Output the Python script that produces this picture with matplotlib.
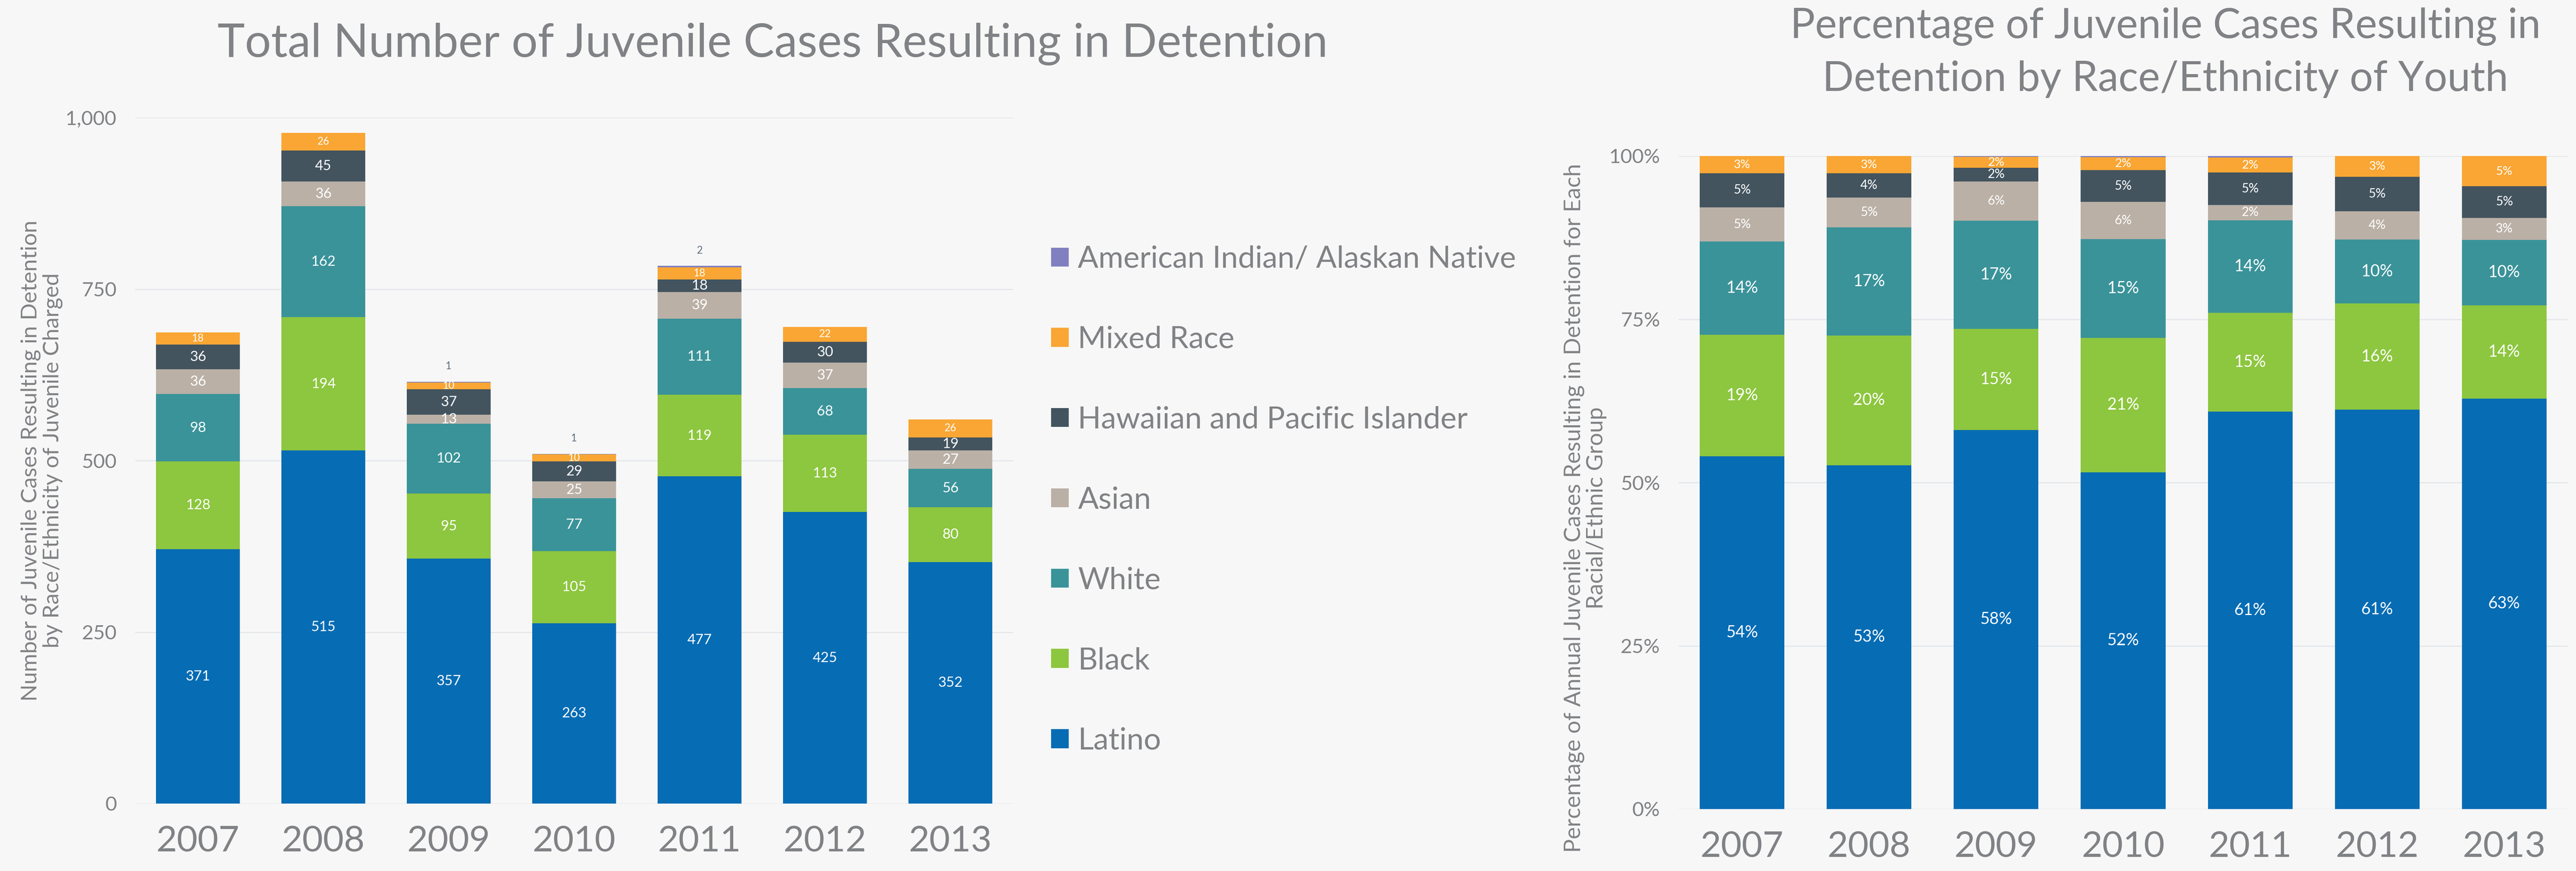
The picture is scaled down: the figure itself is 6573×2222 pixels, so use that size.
import matplotlib.pyplot as plt
from matplotlib.patches import Patch
from matplotlib.ticker import FuncFormatter, MultipleLocator

plt.rcParams['font.family'] = ['Lato', 'DejaVu Sans']

# %% data
years = ['2007', '2008', '2009', '2010', '2011', '2012', '2013']
groups = ['Latino', 'Black', 'White', 'Asian', 'Hawaiian and Pacific Islander',
          'Mixed Race', 'American Indian/ Alaskan Native']
colors = ['#066CB4', '#8DC63F', '#3A9399', '#BAB0A6', '#43545F', '#F9A634', '#8080C0']

# counts, left chart
latino = [371, 515, 357, 263, 477, 425, 352]
black = [128, 194, 95, 105, 119, 113, 80]
white = [98, 162, 102, 77, 111, 68, 56]
asian = [36, 36, 13, 25, 39, 37, 27]
hawaiian = [36, 45, 37, 29, 18, 30, 19]
mixed = [18, 26, 10, 10, 18, 22, 26]
am_indian = [0, 0, 1, 1, 2, 0, 0]

# percentages, right chart (as drawn in the picture)
pct_latino = [54.00, 52.66, 58.05, 51.57, 60.84, 61.15, 62.86]
pct_black = [18.63, 19.84, 15.45, 20.59, 15.18, 16.26, 14.29]
pct_white = [14.26, 16.56, 16.59, 15.10, 14.16, 9.78, 10.00]
pct_asian = [5.24, 4.60, 6.02, 5.69, 2.30, 4.32, 3.39]
pct_hawaiian = [5.24, 3.68, 2.11, 4.90, 4.97, 5.32, 4.82]
pct_mixed = [2.62, 2.66, 1.63, 1.96, 2.30, 3.17, 4.64]
pct_am_indian = [0, 0, 0.16, 0.20, 0.26, 0, 0]

counts = [latino, black, white, asian, hawaiian, mixed, am_indian]
pcts = [pct_latino, pct_black, pct_white, pct_asian, pct_hawaiian, pct_mixed, pct_am_indian]

# %% style
bg = '#F7F7F7'
grey = '#808285'
grid_c = '#E2E6EA'
W, H = 6573, 2222
DPI = 100

fig = plt.figure(figsize=(W / DPI, H / DPI), dpi=DPI, facecolor=bg)

def px_axes(x0, y0, x1, y1):
    # pixel box (top-left origin) -> figure axes
    return fig.add_axes([x0 / W, 1 - y1 / H, (x1 - x0) / W, (y1 - y0) / H])

ax1 = px_axes(345, 300, 2585, 2050)
ax2 = px_axes(4283, 398, 6552, 2064)

for ax in (ax1, ax2):
    ax.set_facecolor(bg)
    for s in ax.spines.values():
        s.set_visible(False)
    ax.yaxis.grid(True, color=grid_c, lw=2)
    ax.set_axisbelow(True)
    ax.set_xlim(-0.5, len(years) - 0.5)
    ax.tick_params(length=0, colors=grey)
    ax.tick_params(axis='x', labelsize=66, pad=40)
    ax.tick_params(axis='y', labelsize=37, pad=34)

x = range(len(years))

# %% left chart - counts
label_size_l = [26, 26, 26, 26, 26, 19, 19]
bottom = [0] * len(years)
for vals, c, fs in zip(counts, colors, label_size_l):
    bars = ax1.bar(x, vals, 0.67, bottom=bottom, color=c, linewidth=0)
    if c != colors[-1]:
        ax1.bar_label(bars, labels=[str(v) if v > 0 else '' for v in vals],
                      label_type='center', color='white', fontsize=fs)
    bottom = [b + v for b, v in zip(bottom, vals)]

for i, v in enumerate(am_indian):
    if v > 0:
        ax1.annotate(str(v), (i, bottom[i]), xytext=(0, 28), textcoords='offset points',
                     ha='center', va='center', color='#5E6E80', fontsize=19)

ax1.set_ylim(0, 1000)
ax1.yaxis.set_major_locator(MultipleLocator(250))
ax1.yaxis.set_major_formatter(FuncFormatter(lambda v, p: f'{v:,.0f}'))
ax1.set_xticks(list(x))
ax1.set_xticklabels(years)

# %% right chart - percentages
label_size_r = [30, 30, 30, 23, 23, 22, 22]
bottom = [0] * len(years)
for vals, c, fs in zip(pcts, colors, label_size_r):
    bars = ax2.bar(x, vals, 0.667, bottom=bottom, color=c, linewidth=0)
    ax2.bar_label(bars, labels=[f'{v:.0f}%' if v >= 1 else '' for v in vals],
                  label_type='center', color='white', fontsize=fs)
    bottom = [b + v for b, v in zip(bottom, vals)]

ax2.set_ylim(0, 100)
ax2.yaxis.set_major_locator(MultipleLocator(25))
ax2.yaxis.set_major_formatter(FuncFormatter(lambda v, p: f'{v:.0f}%'))
ax2.set_xticks(list(x))
ax2.set_xticklabels(years)

# %% legend
handles = [Patch(facecolor=c, edgecolor='none') for c in colors][::-1]
fig.legend(handles, groups[::-1], loc='center left',
           bbox_to_anchor=(2682 / W, 1 - 1276 / H), frameon=False,
           fontsize=56, labelcolor=grey, handlelength=0.58, handleheight=0.58,
           handletextpad=0.3, labelspacing=1.72, borderpad=0, borderaxespad=0)

# %% titles and axis labels
fig.text(1972 / W, 1 - 145 / H, 'Total Number of Juvenile Cases Resulting in Detention',
         ha='center', va='baseline', fontsize=85, color=grey)
fig.text(5525 / W, 1 - 97 / H, 'Percentage of Juvenile Cases Resulting in',
         ha='center', va='baseline', fontsize=76, color=grey)
fig.text(5525 / W, 1 - 232 / H, 'Detention by Race/Ethnicity of Youth',
         ha='center', va='baseline', fontsize=76, color=grey)

fig.text(106 / W, 1 - 1175 / H,
         'Number of Juvenile Cases Resulting in Detention\nby Race/Ethnicity of Juvenile Charged',
         rotation=90, ha='center', va='center', multialignment='center',
         fontsize=41, color=grey, linespacing=1.1)
fig.text(4045 / W, 1 - 1296 / H,
         'Percentage of Annual Juvenile Cases Resulting in Detention for Each\nRacial/Ethnic Group',
         rotation=90, ha='center', va='center', multialignment='center',
         fontsize=42, color=grey, linespacing=1.1)

fig.savefig('out.png', dpi=DPI, facecolor=bg)
